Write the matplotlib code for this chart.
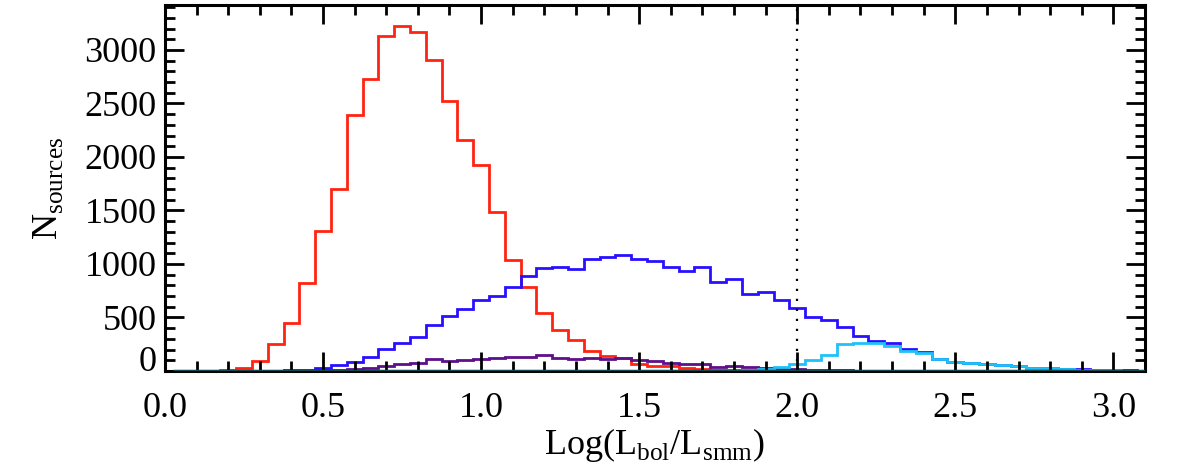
import numpy as np
import matplotlib
matplotlib.use("Agg")
import matplotlib.pyplot as plt

# counts per bin, bin width 0.05, bin centres 0.05 ... 3.10
bin_width = 0.05
first_edge = 0.025

red_counts = [0, 0, 2, 8, 25, 93, 252, 448, 824, 1306, 1704, 2395, 2724, 3129, 3228,
              3163, 2902, 2522, 2161, 1922, 1483, 1040, 787, 544, 383, 289, 187, 140,
              118, 65, 47, 45, 25, 15, 12, 8, 6, 4, 3, 2, 1, 0, 0, 0, 0, 0, 0, 0, 0,
              0, 0, 0, 0, 0, 0, 0, 0, 0, 0, 0, 0, 0]
blue_counts = [0, 0, 0, 0, 0, 0, 0, 5, 10, 25, 56, 87, 134, 205, 258, 320, 429, 513,
               578, 662, 697, 787, 888, 967, 973, 949, 1042, 1067, 1082, 1045, 1029,
               973, 936, 973, 827, 858, 718, 740, 659, 585, 501, 473, 408, 327, 283,
               258, 202, 180, 109, 81, 78, 68, 56, 47, 31, 25, 18, 15, 10, 8, 5, 3]
purple_counts = [0, 0, 0, 0, 0, 0, 0, 0, 0, 6, 10, 16, 31, 50, 62, 72, 109, 93, 103,
                 109, 118, 128, 134, 152, 126, 112, 118, 109, 118, 103, 93, 72, 62, 65,
                 40, 50, 37, 31, 18, 15, 10, 7, 5, 4, 3, 2, 1, 0, 0, 0, 0, 0, 0, 0, 0,
                 0, 0, 0, 0, 0, 0, 0]
cyan_counts = [0, 0, 0, 0, 0, 0, 0, 0, 0, 0, 0, 0, 0, 0, 0, 0, 0, 0, 0, 0, 0, 0, 0,
               0, 0, 0, 0, 0, 0, 0, 0, 0, 0, 0, 0, 3, 8, 20, 35, 68, 100, 149, 252,
               258, 264, 233, 187, 165, 109, 80, 76, 66, 55, 46, 30, 24, 17, 14, 10, 7,
               4, 2]
teal_counts = [0] * 62

edges = first_edge + bin_width * np.arange(len(red_counts) + 1)

plt.rcParams['font.family'] = ['Liberation Serif', 'DejaVu Serif']
plt.rcParams['mathtext.fontset'] = 'custom'
plt.rcParams['mathtext.rm'] = 'Liberation Serif'

fig = plt.figure(figsize=(11.8, 4.71), dpi=100)
ax = fig.add_axes([0.1398, 0.2123, 0.8305, 0.7771])

lw = 2.0
ax.stairs(red_counts, edges, color='#ff2412', lw=lw)
ax.stairs(blue_counts, edges, color='#2810ff', lw=lw)
ax.stairs(purple_counts, edges, color='#5e0f8a', lw=lw)
ax.stairs(cyan_counts, edges, color='#1ec2f8', lw=lw)
ax.stairs(teal_counts, edges, color='#0e4a50', lw=2.5, zorder=3)

ax.axvline(2.0, color='black', ls=(0, (1, 3.5)), lw=1.6)

ax.set_xlim(0, 3.1)
ax.set_ylim(0, 3420)
ax.set_xticks([0.0, 0.5, 1.0, 1.5, 2.0, 2.5, 3.0])
ax.set_xticklabels(['0.0', '0.5', '1.0', '1.5', '2.0', '2.5', '3.0'])
ax.set_xticks(np.arange(0, 3.1, 0.1), minor=True)
ax.set_yticks([0, 500, 1000, 1500, 2000, 2500, 3000])
ax.set_yticks(np.arange(0, 3401, 100), minor=True)

ax.tick_params(which='both', direction='in', top=True, right=True, width=2, labelsize=26)
ax.tick_params(which='major', length=14)
ax.tick_params(which='minor', length=7)
ax.tick_params(axis='x', pad=15)
ax.tick_params(axis='y', pad=6)
for s in ax.spines.values():
    s.set_linewidth(2.2)

ax.get_yticklabels()[0].set_va('baseline')

ax.set_xlabel(r'Log(L$_{\rm bol}$/L$_{\rm smm}$)', fontsize=26, labelpad=1)
ax.set_ylabel(r'N$_{\rm sources}$', fontsize=26, labelpad=14)

fig.savefig('out.png', dpi=100)
